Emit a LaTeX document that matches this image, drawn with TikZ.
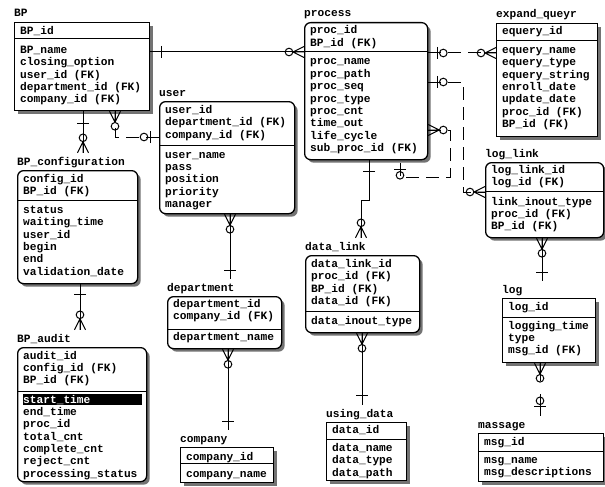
\documentclass[tikz,border=0pt]{standalone}
\usepackage{fontspec}
\newfontfamily\erfont{Liberation Mono}
\usetikzlibrary{shadows}
\newcommand\rw[1]{\hbox{#1}}
\newcommand\erf{\erfont\bfseries\fontsize{11.2}{12.35}\selectfont}
\tikzset{
  sqbox/.style={draw, line width=1.3pt, fill=white, inner sep=0pt, anchor=north west,
    drop shadow={shadow xshift=3pt, shadow yshift=-3pt, opacity=1, fill=black!55}},
  rdbox/.style={sqbox, rounded corners=6pt},
  sepline/.style={line width=1pt},
  ttl/.style={anchor=base west, inner xsep=0pt, inner ysep=5pt, text height=7pt, text depth=2pt, font=\erf},
  rows/.style={anchor=base west, inner sep=0pt, font=\erf},
  conn/.style={line width=1pt},
  dconn/.style={conn, dash pattern=on 13pt off 7pt},
  mk/.style={line width=1pt},
  pics/mz/.style={code={\draw[mk] (11,0) -- (0,5.5) (11,0) -- (0,0) (11,0) -- (0,-5.5);
      \draw[mk] (15,0) circle[radius=3.8pt];}},
  pics/oz/.style={code={\draw[mk] (9,-6) -- (9,6); \draw[mk] (15,0) circle[radius=3.8pt];}},
  pics/o/.style={code={\draw[mk] (#1,-6) -- (#1,6);}},
}
\newcommand\ent[8]{%
  \node[#2, minimum width={(#5)-(#3)}, minimum height={(#7)-(#4)}] (#1) at (#3,#4) {};
  \draw[sepline] (#1.west |- 0,#6) -- (#1.east |- 0,#6);
  \node[ttl] (#1T) at (#3,#4-5) {#8};
}
\begin{document}
\begin{tikzpicture}[x=1pt,y=-1pt]
\fill[white] (0,0) rectangle (605,487);
\useasboundingbox (0,0) rectangle (605,487);

% ---------- entities ----------
\ent{bp}{sqbox}{14}{22}{149}{39}{110}{BP}
\node[rows] (bpK) at (20,35) {\vtop{\rw{BP\_id}}};
\node[rows] (bpA) at (20,53.5) {\vtop{\rw{BP\_name}\rw{closing\_option}\rw{user\_id (FK)}\rw{department\_id (FK)}\rw{company\_id (FK)}}};

\ent{user}{rdbox}{159}{101}{294}{145}{213}{user}
\node[rows] (userK) at (165,113.5) {\vtop{\rw{user\_id}\rw{department\_id (FK)}\rw{company\_id (FK)}}};
\node[rows] (userA) at (165,158) {\vtop{\rw{user\_name}\rw{pass}\rw{position}\rw{priority}\rw{manager}}};

\ent{bpc}{rdbox}{17}{170}{137}{200}{283}{BP\_configuration}
\node[rows] (bpcK) at (23,182) {\vtop{\rw{config\_id}\rw{BP\_id (FK)}}};
\node[rows] (bpcA) at (23,213.5) {\vtop{\rw{status}\rw{waiting\_time}\rw{user\_id}\rw{begin}\rw{end}\rw{validation\_date}}};

\ent{bpa}{rdbox}{17}{347}{146}{391}{481}{BP\_audit}
\node[rows] (bpaK) at (23,359) {\vtop{\rw{audit\_id}\rw{config\_id (FK)}\rw{BP\_id (FK)}}};
\fill[black] (23,394) rectangle (142,405);
\node[rows] (bpaA) at (23,403) {\vtop{\rw{\textcolor{white}{start\_time}}\rw{end\_time}\rw{proc\_id}\rw{total\_cnt}\rw{complete\_cnt}\rw{reject\_cnt}\rw{processing\_status}}};

\ent{dept}{rdbox}{167}{296}{281}{329}{348}{department}
\node[rows] (deptK) at (173,307.5) {\vtop{\rw{department\_id}\rw{company\_id (FK)}}};
\node[rows] (deptA) at (173,340.5) {\vtop{\rw{department\_name}}};

\ent{comp}{sqbox}{180}{447}{273}{463}{482}{company}
\node[rows] (compK) at (186,460) {\vtop{\rw{company\_id}}};
\node[rows] (compA) at (186,477) {\vtop{\rw{company\_name}}};

\ent{proc}{rdbox}{304}{22}{427}{52}{159}{process}
\node[rows] (procK) at (310,34) {\vtop{\rw{proc\_id}\rw{BP\_id (FK)}}};
\node[rows] (procA) at (310,65) {\vtop{\rw{proc\_name}\rw{proc\_path}\rw{proc\_seq}\rw{proc\_type}\rw{proc\_cnt}\rw{time\_out}\rw{life\_cycle}\rw{sub\_proc\_id (FK)}}};

\ent{eq}{sqbox}{496}{23}{597}{41}{136}{expand\_queyr}
\node[rows] (eqK) at (502,35) {\vtop{\rw{equery\_id}}};
\node[rows] (eqA) at (502,53.5) {\vtop{\rw{equery\_name}\rw{equery\_type}\rw{equery\_string}\rw{enroll\_date}\rw{update\_date}\rw{proc\_id (FK)}\rw{BP\_id (FK)}}};

\ent{ll}{rdbox}{485}{162}{603}{191}{237}{log\_link}
\node[rows] (llK) at (491,173.5) {\vtop{\rw{log\_link\_id}\rw{log\_id (FK)}}};
\node[rows] (llA) at (491,205) {\vtop{\rw{link\_inout\_type}\rw{proc\_id (FK)}\rw{BP\_id (FK)}}};

\ent{dl}{rdbox}{305}{255}{419}{311}{332}{data\_link}
\node[rows] (dlK) at (311,267.5) {\vtop{\rw{data\_link\_id}\rw{proc\_id (FK)}\rw{BP\_id (FK)}\rw{data\_id (FK)}}};
\node[rows] (dlA) at (311,324.5) {\vtop{\rw{data\_inout\_type}}};

\ent{ud}{sqbox}{326}{422}{406}{439}{480}{using\_data}
\node[rows] (udK) at (332,433.5) {\vtop{\rw{data\_id}}};
\node[rows] (udA) at (332,451.5) {\vtop{\rw{data\_name}\rw{data\_type}\rw{data\_path}}};

\ent{lg}{sqbox}{502}{298}{595}{317}{362}{log}
\node[rows] (lgK) at (508,310) {\vtop{\rw{log\_id}}};
\node[rows] (lgA) at (508,329) {\vtop{\rw{logging\_time}\rw{type}\rw{msg\_id (FK)}}};

\ent{ms}{sqbox}{478}{433}{603}{451}{481}{massage}
\node[rows] (msK) at (484,445) {\vtop{\rw{msg\_id}}};
\node[rows] (msA) at (484,463.5) {\vtop{\rw{msg\_name}\rw{msg\_descriptions}}};

% ---------- relationships ----------
% BP - process
\draw[conn] (bp.east |- 0,52) -- (proc.west |- 0,52);
\pic at (bp.east |- 0,52) {o=11};
\pic[rotate=180] at (proc.west |- 0,52) {mz};
% BP - BP_configuration
\draw[conn] (83,0 |- bp.south) -- (83,0 |- bpcT.north);
\pic[rotate=-90] at (83,0 |- bp.south) {o=12};
\pic[rotate=90] at (83,0 |- bpcT.north) {mz};
% user - BP
\draw[dconn] (user.west |- 0,137) -| (115,0 |- bp.south);
\pic[rotate=180] at (user.west |- 0,137) {oz};
\pic[rotate=-90] at (115,0 |- bp.south) {mz};
% user - department
\draw[conn] (230,0 |- user.south) -- (230,0 |- deptT.north);
\pic[rotate=-90] at (230,0 |- user.south) {mz};
\pic[rotate=90] at (230,0 |- deptT.north) {o=8};
% department - company
\draw[conn] (228,0 |- dept.south) -- (228,0 |- compT.north);
\pic[rotate=-90] at (228,0 |- dept.south) {mz};
\pic[rotate=90] at (228,0 |- compT.north) {o=8};
% BP_configuration - BP_audit
\draw[conn] (80,0 |- bpc.south) -- (80,0 |- bpaT.north);
\pic[rotate=-90] at (80,0 |- bpc.south) {o=10};
\pic[rotate=90] at (80,0 |- bpaT.north) {mz};
% process - expand_queyr
\draw[dconn] (proc.east |- 0,53) -- (eq.west |- 0,53);
\pic at (proc.east |- 0,53) {oz};
\pic[rotate=180] at (eq.west |- 0,53) {mz};
% process - log_link
\draw[dconn] (proc.east |- 0,82) -| (463,192) -- (ll.west |- 0,192);
\pic at (proc.east |- 0,82) {oz};
\pic[rotate=180] at (ll.west |- 0,192) {mz};
% process - process (sub process)
\draw[dconn] (proc.east |- 0,130) -- (450,130) -- (450,177) -- (400,177) -- (400,0 |- proc.south);
\pic at (proc.east |- 0,130) {mz};
\pic[rotate=-90] at (400,0 |- proc.south) {oz};
% process - data_link
\draw[conn] (369,0 |- proc.south) -- (369,200) -- (361,200) -- (361,0 |- dlT.north);
\pic[rotate=-90] at (369,0 |- proc.south) {o=11};
\pic[rotate=90] at (361,0 |- dlT.north) {mz};
% data_link - using_data
\draw[conn] (362,0 |- dl.south) -- (362,0 |- udT.north);
\pic[rotate=-90] at (362,0 |- dl.south) {mz};
\pic[rotate=90] at (362,0 |- udT.north) {o=9};
% log_link - log
\draw[conn] (542,0 |- ll.south) -- (542,0 |- lgT.north);
\pic[rotate=-90] at (542,0 |- ll.south) {mz};
\pic[rotate=90] at (542,0 |- lgT.north) {o=8};
% log - massage
\draw[conn, dash pattern=on 18pt off 13pt on 60pt off 1pt] (540,0 |- lg.south) -- (540,0 |- msT.north);
\pic[rotate=-90] at (540,0 |- lg.south) {mz};
\pic[rotate=90] at (540,0 |- msT.north) {oz};
\end{tikzpicture}
\end{document}
